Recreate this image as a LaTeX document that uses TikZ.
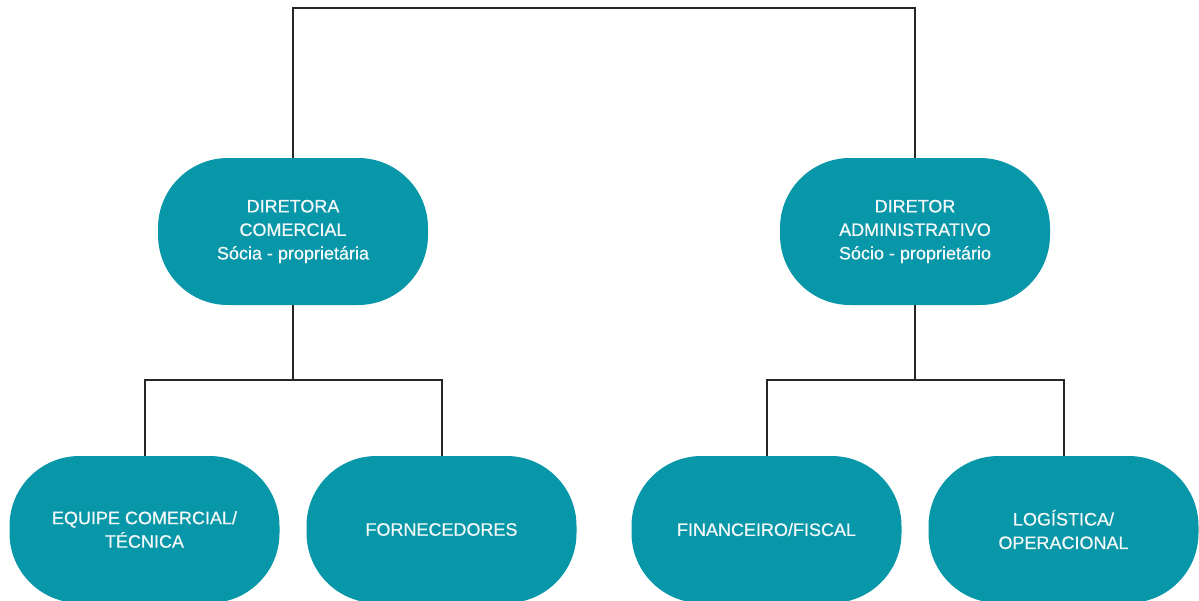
\documentclass[tikz,border=0pt]{standalone}
\usepackage{fontspec}
\setmainfont{Liberation Sans}
\newfontfamily\unitfont{Liberation Sans}[FakeBold=0.6]
\definecolor{teal}{HTML}{0797A8}
\definecolor{offwhite}{HTML}{F4F8F8}
\begin{document}
\begin{tikzpicture}[x=1pt,y=-1pt,
  unit/.style={fill=teal, rounded corners=70pt, minimum width=270pt, minimum height=147pt,
    inner sep=0pt, text=offwhite, align=center, font=\unitfont\fontsize{18}{23.5}\selectfont},
  link/.style={draw=black!85, line width=2pt}]
\useasboundingbox (0,0) rectangle (1199,600);
% top level
\node[unit] (dc) at (293,231.5) {DIRETORA\\COMERCIAL\\Sócia - proprietária};
\node[unit] (da) at (915,231.5) {DIRETOR\\ADMINISTRATIVO\\Sócio - proprietário};
% second level
\node[unit] (eq) at (144.5,529.5) {EQUIPE COMERCIAL/\\TÉCNICA};
\node[unit] (fo) at (441.5,529.5) {FORNECEDORES};
\node[unit] (fi) at (766.5,529.5) {FINANCEIRO/FISCAL};
\node[unit] (lo) at (1063.5,529.5) {LOGÍSTICA/\\OPERACIONAL};
% connectors
\draw[link] (dc.north) -- ++(0,-150) -| (da.north);
\draw[link] (dc.south) -- ++(0,75) coordinate (jl);
\draw[link] (eq.north) |- (jl) -| (fo.north);
\draw[link] (da.south) -- ++(0,75) coordinate (jr);
\draw[link] (fi.north) |- (jr) -| (lo.north);
\end{tikzpicture}
\end{document}
